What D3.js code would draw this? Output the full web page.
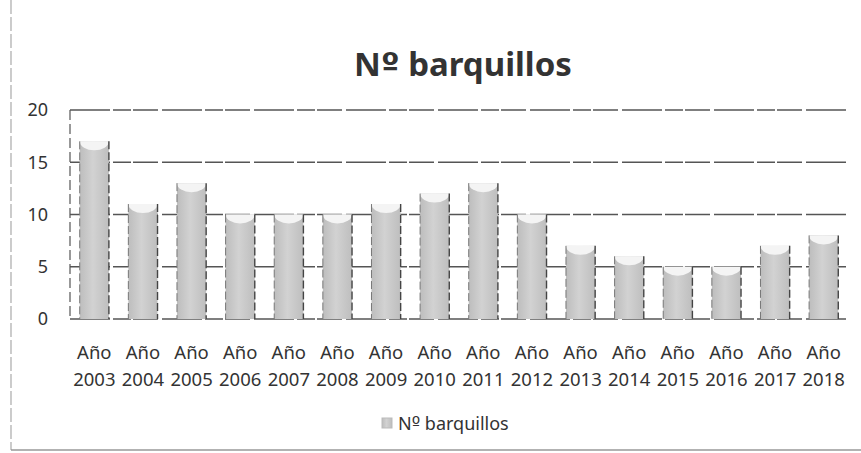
<!DOCTYPE html>
<html><head><meta charset="utf-8">
<script src="https://cdn.jsdelivr.net/npm/d3@7"></script>
<style>body{margin:0;background:#fff}svg{display:block}</style>
</head><body>
<svg id="c" width="861" height="453"></svg>
<script>
const categories = ["2003","2004","2005","2006","2007","2008","2009","2010","2011","2012","2013","2014","2015","2016","2017","2018"];
const values = [17,11,13,10,10,10,11,12,13,10,7,6,5,5,7,8];
const yTicks = [0,5,10,15,20];
const seriesName = ["Nº", " barquillos"];
const titleText = ["Nº", " barquillos"];

const svg = d3.select("#c");
const m = {l:70, r:848, t:110, b:319};
const x = d3.scaleBand().domain(categories).range([m.l, m.r]).paddingInner(0.4).paddingOuter(0.2);
const y = d3.scaleLinear().domain([0,20]).range([m.b, m.t]);
const font = "'Noto Sans', 'Open Sans', sans-serif";
const ordFont = "'DejaVu Sans', sans-serif";

// outer chart frame (left & bottom visible in scan)
svg.append("line").attr("x1",11).attr("x2",11).attr("y1",0).attr("y2",450).attr("stroke","#aaa").attr("stroke-width",1.2).attr("stroke-dasharray","14 3");
svg.append("line").attr("x1",11).attr("x2",861).attr("y1",450).attr("y2",450).attr("stroke","#999").attr("stroke-width",1.5);

const defs = svg.append("defs");
const g = defs.append("linearGradient").attr("id","cyl").attr("x1","0").attr("x2","1").attr("y1","0").attr("y2","0");
g.append("stop").attr("offset","0").attr("stop-color","#bdbdbd");
g.append("stop").attr("offset","0.45").attr("stop-color","#d2d2d2");
g.append("stop").attr("offset","1").attr("stop-color","#bebebe");

// gridlines
svg.append("g").selectAll("line").data(yTicks).join("line")
  .attr("x1",m.l).attr("x2",m.r).attr("y1",d=>y(d)).attr("y2",d=>y(d))
  .attr("stroke","#555").attr("stroke-width",1.4).attr("stroke-dasharray","40 3 18 2 25 4");
// left plot border
svg.append("line").attr("x1",m.l).attr("x2",m.l).attr("y1",m.t).attr("y2",m.b).attr("stroke","#555").attr("stroke-width",1.2).attr("stroke-dasharray","10 4");

// y labels
svg.append("g").selectAll("text").data(yTicks).join("text")
  .attr("x",48).attr("y",d=>y(d)).attr("dy","0.36em").attr("text-anchor","end")
  .attr("font-family",font).attr("font-size",18).attr("fill","#333").text(d=>d);

// bars
const bars = svg.append("g").selectAll("g").data(categories).join("g");
bars.append("rect")
  .attr("x",d=>x(d)).attr("width",x.bandwidth())
  .attr("y",(d,i)=>y(values[i])).attr("height",(d,i)=>y(0)-y(values[i]))
  .attr("fill","url(#cyl)");
bars.append("path")
  .attr("d",(d,i)=>{const x0=x(d),x1=x(d)+x.bandwidth(),yt=y(values[i]);return `M${x0},${yt} A${x.bandwidth()/2},9 0 0 0 ${x1},${yt} Z`;})
  .attr("fill","#f4f4f4");
bars.append("line").attr("x1",d=>x(d)).attr("x2",d=>x(d)).attr("y1",(d,i)=>y(values[i])).attr("y2",y(0)).attr("stroke","#777").attr("stroke-width",1).attr("stroke-dasharray","8 3");
bars.append("line").attr("x1",d=>x(d)+x.bandwidth()).attr("x2",d=>x(d)+x.bandwidth()).attr("y1",(d,i)=>y(values[i])).attr("y2",y(0)).attr("stroke","#444").attr("stroke-width",1.4).attr("stroke-dasharray","8 3");

// x labels
const xl = svg.append("g").selectAll("text").data(categories).join("text")
  .attr("x",d=>x(d)+x.bandwidth()/2).attr("text-anchor","middle")
  .attr("font-family",font).attr("font-size",18.5).attr("fill","#333");
xl.append("tspan").attr("x",d=>x(d)+x.bandwidth()/2).attr("y",359).text("Año");
xl.append("tspan").attr("x",d=>x(d)+x.bandwidth()/2).attr("y",386).text(d=>d);

// title
const tt = svg.append("text").attr("x",463).attr("y",76).attr("text-anchor","middle")
  .attr("font-family",font).attr("font-weight","bold").attr("font-size",33).attr("fill","#333");
tt.append("tspan").text(titleText[0][0]);
tt.append("tspan").attr("font-family",ordFont).text(titleText[0].slice(1));
tt.append("tspan").text(titleText[1]);

// legend
svg.append("rect").attr("x",382).attr("y",418).attr("width",10).attr("height",10).attr("fill","url(#cyl)").attr("stroke","#bbb");
const lt = svg.append("text").attr("x",398).attr("y",430).attr("font-family",font).attr("font-size",18).attr("fill","#333");
lt.append("tspan").text(seriesName[0][0]);
lt.append("tspan").attr("font-family",ordFont).text(seriesName[0].slice(1));
lt.append("tspan").text(seriesName[1]);
</script>
</body></html>
